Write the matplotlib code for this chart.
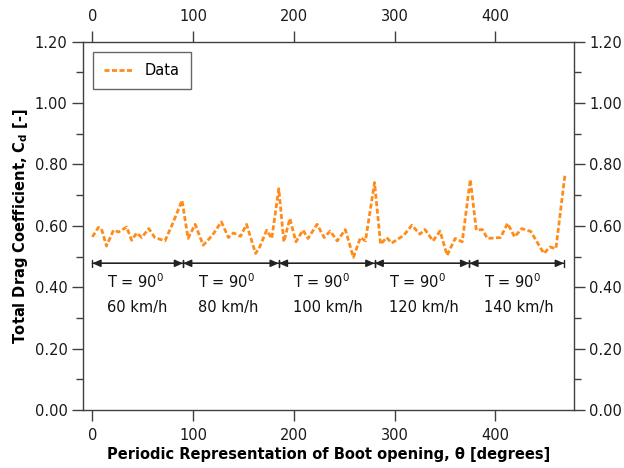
import matplotlib
matplotlib.use("Agg")
import matplotlib.pyplot as plt
from matplotlib.ticker import MultipleLocator

# Data
theta = [0, 6, 9, 14, 21, 26, 29, 34, 39, 44, 49, 56, 62, 72, 79, 89, 95, 102, 110, 119,
         128, 135, 140, 147, 153, 162, 166, 173, 178, 185, 190, 196, 202, 209, 214, 223,
         230, 236, 243, 251, 259, 266, 271, 280, 286, 292, 297, 309, 317, 325, 330, 338,
         345, 352, 360, 367, 375, 381, 387, 392, 405, 412, 419, 426, 435, 448, 454, 460, 469]
cd = [0.564, 0.595, 0.591, 0.534, 0.586, 0.580, 0.586, 0.596, 0.553, 0.577, 0.562, 0.591,
      0.562, 0.551, 0.602, 0.683, 0.559, 0.605, 0.537, 0.569, 0.613, 0.562, 0.577, 0.566,
      0.605, 0.510, 0.531, 0.586, 0.559, 0.721, 0.548, 0.624, 0.548, 0.586, 0.559, 0.605,
      0.562, 0.583, 0.551, 0.588, 0.497, 0.562, 0.551, 0.741, 0.540, 0.562, 0.544, 0.569,
      0.602, 0.573, 0.588, 0.551, 0.583, 0.504, 0.559, 0.548, 0.751, 0.586, 0.588, 0.559,
      0.562, 0.608, 0.564, 0.591, 0.582, 0.510, 0.531, 0.526, 0.768]

boundaries = [0, 90, 185, 280, 374, 468]
speeds = ["60 km/h", "80 km/h", "100 km/h", "120 km/h", "140 km/h"]
temp_label = "T = 90$^\\mathregular{0}$"
arrow_y = 0.478

plt.rcParams['font.family'] = ['DejaVu Sans']
fig = plt.figure(figsize=(6.24, 4.68), dpi=100)
ax = fig.add_axes([0.1325, 0.1239, 0.7875, 0.787])

orange = '#ff8c1a'
ax.plot(theta, cd, color=orange, lw=2.0, linestyle=(0, (1.8, 0.9)), label='Data')

for i in range(len(boundaries) - 1):
    a, b = boundaries[i], boundaries[i + 1]
    ax.annotate('', xy=(b, arrow_y), xytext=(a, arrow_y),
                arrowprops=dict(arrowstyle='<|-|>,head_length=0.5,head_width=0.22',
                                color='#222222', lw=1.0, shrinkA=0, shrinkB=0))
    ax.annotate('', xy=(b, arrow_y), xytext=(a, arrow_y),
                arrowprops=dict(arrowstyle='|-|,widthA=0.25,widthB=0.25',
                                color='#222222', lw=1.0, shrinkA=0, shrinkB=0))
    ax.text(a + 14.5, 0.417, temp_label, fontsize=10.5, ha='left', va='center', color='#111111')
    ax.text(a + 14.5, 0.335, speeds[i], fontsize=10.5, ha='left', va='center', color='#111111')

ax.set_xlim(-9.6, 478)
ax.set_ylim(0, 1.2)
ax.xaxis.set_major_locator(MultipleLocator(100))
ax.yaxis.set_major_locator(MultipleLocator(0.2))
ax.yaxis.set_minor_locator(MultipleLocator(0.1))
ax.yaxis.set_major_formatter(plt.FuncFormatter(lambda v, p: f"{v:.2f}"))

spine_c = '#404040'
for s in ax.spines.values():
    s.set_color(spine_c)
    s.set_linewidth(1.0)

ax.tick_params(axis='both', which='major', direction='out', length=8, width=1.0,
               color=spine_c, labelsize=10.5, labelcolor='#1a1a1a',
               top=True, right=True, labeltop=True, labelright=True, pad=3)
ax.tick_params(axis='x', which='major', pad=5)
ax.tick_params(axis='y', which='minor', direction='out', length=5, width=1.0,
               color=spine_c, left=True, right=True)

ax.set_xlabel("Periodic Representation of Boot opening, θ [degrees]",
              fontsize=10.5, fontweight='bold', labelpad=3)
ax.set_ylabel("Total Drag Coefficient, C$_\\mathregular{d}$ [-]",
              fontsize=10.5, fontweight='bold', labelpad=3)

leg = ax.legend(loc='upper left', bbox_to_anchor=(0.0, 0.0, 1, 1), fontsize=10.5,
                frameon=True, fancybox=False, edgecolor='#404040',
                handlelength=2.0, borderpad=0.75, borderaxespad=0.7)
leg.get_frame().set_linewidth(1.0)

fig.savefig('out.png', dpi=100)
